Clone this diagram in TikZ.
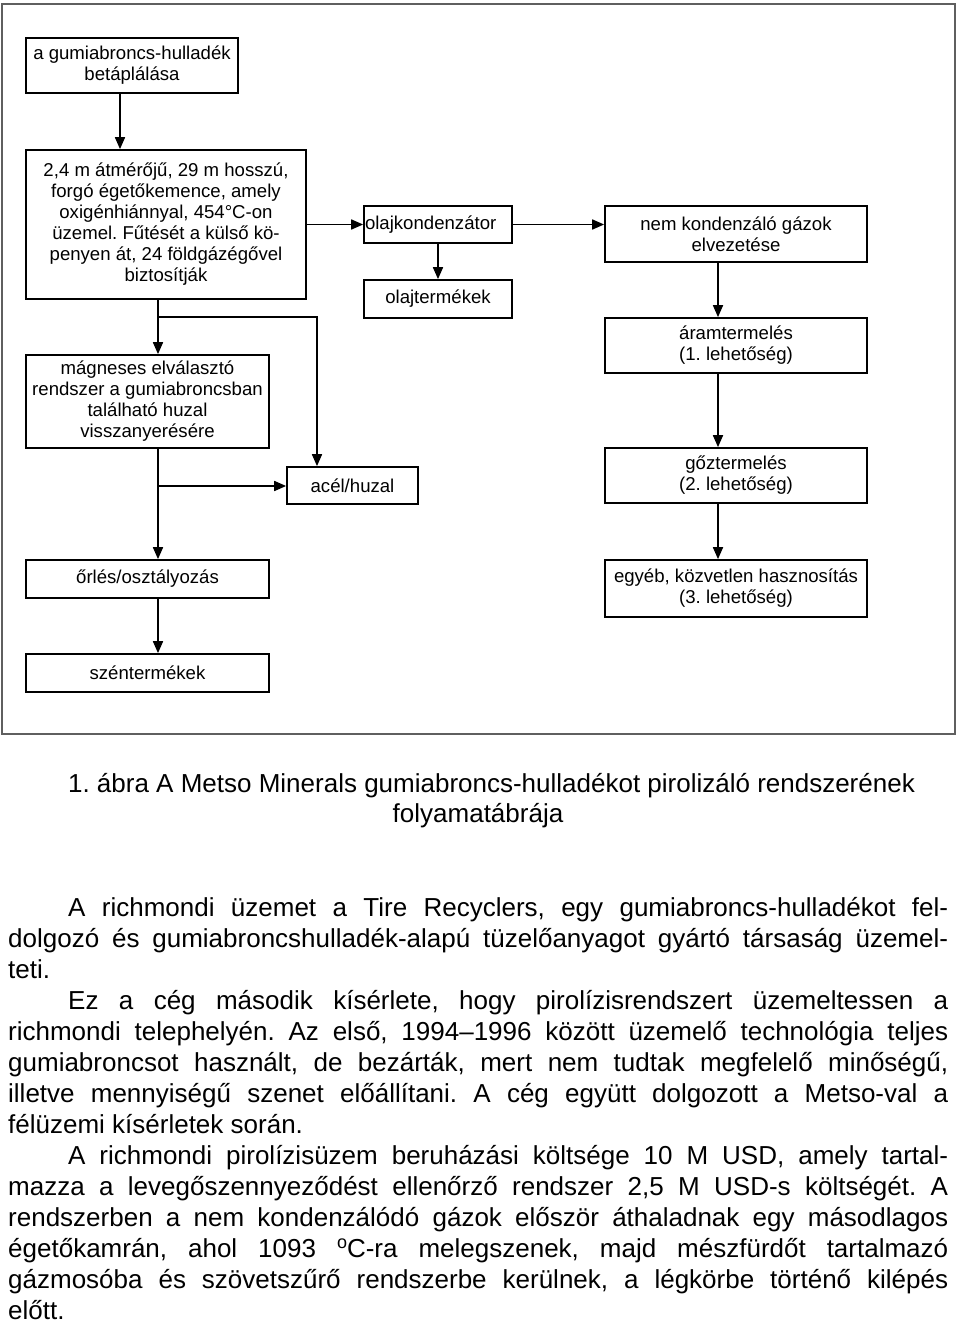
\documentclass[tikz,border=0pt]{standalone}
\usepackage{fontspec}
\setmainfont{Liberation Sans}
\usetikzlibrary{arrows.meta}
\definecolor{framegray}{RGB}{95,95,95}
\begin{document}
\frenchspacing
\begin{tikzpicture}[x=1pt,y=-1pt,
  box/.style={draw, line width=1.7pt, inner sep=0pt, align=center,
    font=\fontsize{18.6}{21}\selectfont},
  ln/.style={line width=1.7pt},
  arr/.style={line width=1.7pt, -{Triangle[length=12pt,width=10pt]}},
  capt/.style={inner sep=0pt, anchor=base, font=\fontsize{26}{30}\selectfont}]
\useasboundingbox (0,0) rectangle (960,1322);
\draw[framegray, line width=2pt] (2,4) rectangle (955,734);

% left column
\node[box, minimum width=212pt, minimum height=55pt] (b1) at (132,65.5) {a gumiabroncs-hulladék\\betáplálása};
\node[box, minimum width=280pt, minimum height=149pt] (b2) at (166,224.5) {2,4 m átmérőjű, 29 m hosszú,\\forgó égetőkemence, amely\\oxigénhiánnyal, 454°C-on\\üzemel. Fűtését a külső kö-\\penyen át, 24 földgázégővel\\biztosítják};
\node[box, minimum width=243pt, minimum height=93pt] (mag) at (147.5,401.5) {mágneses elválasztó\\rendszer a gumiabroncsban\\található huzal\\visszanyerésére};
\node[box, minimum width=243pt, minimum height=38pt] (orles) at (147.5,579) {őrlés/osztályozás};
\node[box, minimum width=243pt, minimum height=38pt] (szen) at (147.5,673) {széntermékek};

% middle column
\node[box, minimum width=148pt, minimum height=37pt, text width=146pt, align=left, inner xsep=1pt] (kond) at (438,224.5) {olajkondenzátor};
\node[box, minimum width=148pt, minimum height=38pt] (olaj) at (438,299) {olajtermékek};
\node[box, minimum width=131pt, minimum height=37pt] (acel) at (352.5,485.5) {acél/huzal};

% right column
\node[box, minimum width=262pt, minimum height=56pt] (nem) at (736,234) {nem kondenzáló gázok\\elvezetése};
\node[box, minimum width=262pt, minimum height=55pt] (aram) at (736,345.5) {áramtermelés\\(1. lehetőség)};
\node[box, minimum width=262pt, minimum height=55pt] (goz) at (736,475.5) {gőztermelés\\(2. lehetőség)};
\node[box, minimum width=262pt, minimum height=57pt] (egyeb) at (736,588.5) {egyéb, közvetlen hasznosítás\\(3. lehetőség)};

% helper coordinates
\coordinate (ax1) at (120,0);
\coordinate (ax3) at (718,0);
\coordinate (ax4) at (317,0);
\coordinate (j1) at (158,317);
\coordinate (j2) at (158,486);

% connectors
\draw[arr] (b1.south -| ax1) -- (b2.north -| ax1);
\draw[ln] (b2.south -| j1) -- (j1);
\draw[arr] (j1) -- (mag.north -| j1);
\draw[arr] (j1) -| (ax4 |- acel.north);
\draw[ln] (mag.south -| j2) -- (j2);
\draw[arr] (j2) -- (orles.north -| j2);
\draw[arr] (j2) -- (j2 -| acel.west);
\draw[arr] (orles.south -| j2) -- (szen.north -| j2);
\draw[arr] (b2.east) -- (kond.west);
\draw[arr] (kond.east) -- (kond.east -| nem.west);
\draw[arr] (kond.south) -- (olaj.north);
\draw[arr] (nem.south -| ax3) -- (aram.north -| ax3);
\draw[arr] (aram.south -| ax3) -- (goz.north -| ax3);
\draw[arr] (goz.south -| ax3) -- (egyeb.north -| ax3);

% caption
\node[capt] (cap1) at (491.5,792) {1. ábra A Metso Minerals gumiabroncs-hulladékot pirolizáló rendszerének};
\node[capt] (cap2) at (478,822) {folyamatábrája};

% body text
\node[anchor=base west, inner sep=0pt] (body) at (8,916) {\parbox[t]{940pt}{\fontsize{26}{31}\selectfont\frenchspacing
\hspace*{60pt}A richmondi üzemet a Tire Recyclers, egy gumiabroncs-hulladékot fel-\linebreak
dolgozó és gumiabroncshulladék-alapú tüzelőanyagot gyártó társaság üzemel-\linebreak
teti.\par
\hspace*{60pt}Ez a cég második kísérlete, hogy pirolízisrendszert üzemeltessen a\linebreak
richmondi telephelyén. Az első, 1994–1996 között üzemelő technológia teljes\linebreak
gumiabroncsot használt, de bezárták, mert nem tudtak megfelelő minőségű,\linebreak
illetve mennyiségű szenet előállítani. A cég együtt dolgozott a Metso-val a\linebreak
félüzemi kísérletek során.\par
\hspace*{60pt}A richmondi pirolízisüzem beruházási költsége 10 M USD, amely tartal-\linebreak
mazza a levegőszennyeződést ellenőrző rendszer 2,5 M USD-s költségét. A\linebreak
rendszerben a nem kondenzálódó gázok először áthaladnak egy másodlagos\linebreak
égetőkamrán, ahol 1093 {\fontsize{18}{18}\selectfont\raisebox{9pt}{o}}C-ra melegszenek, majd mészfürdőt tartalmazó\linebreak
gázmosóba és szövetszűrő rendszerbe kerülnek, a légkörbe történő kilépés\linebreak
előtt.\par}};
\end{tikzpicture}
\end{document}
